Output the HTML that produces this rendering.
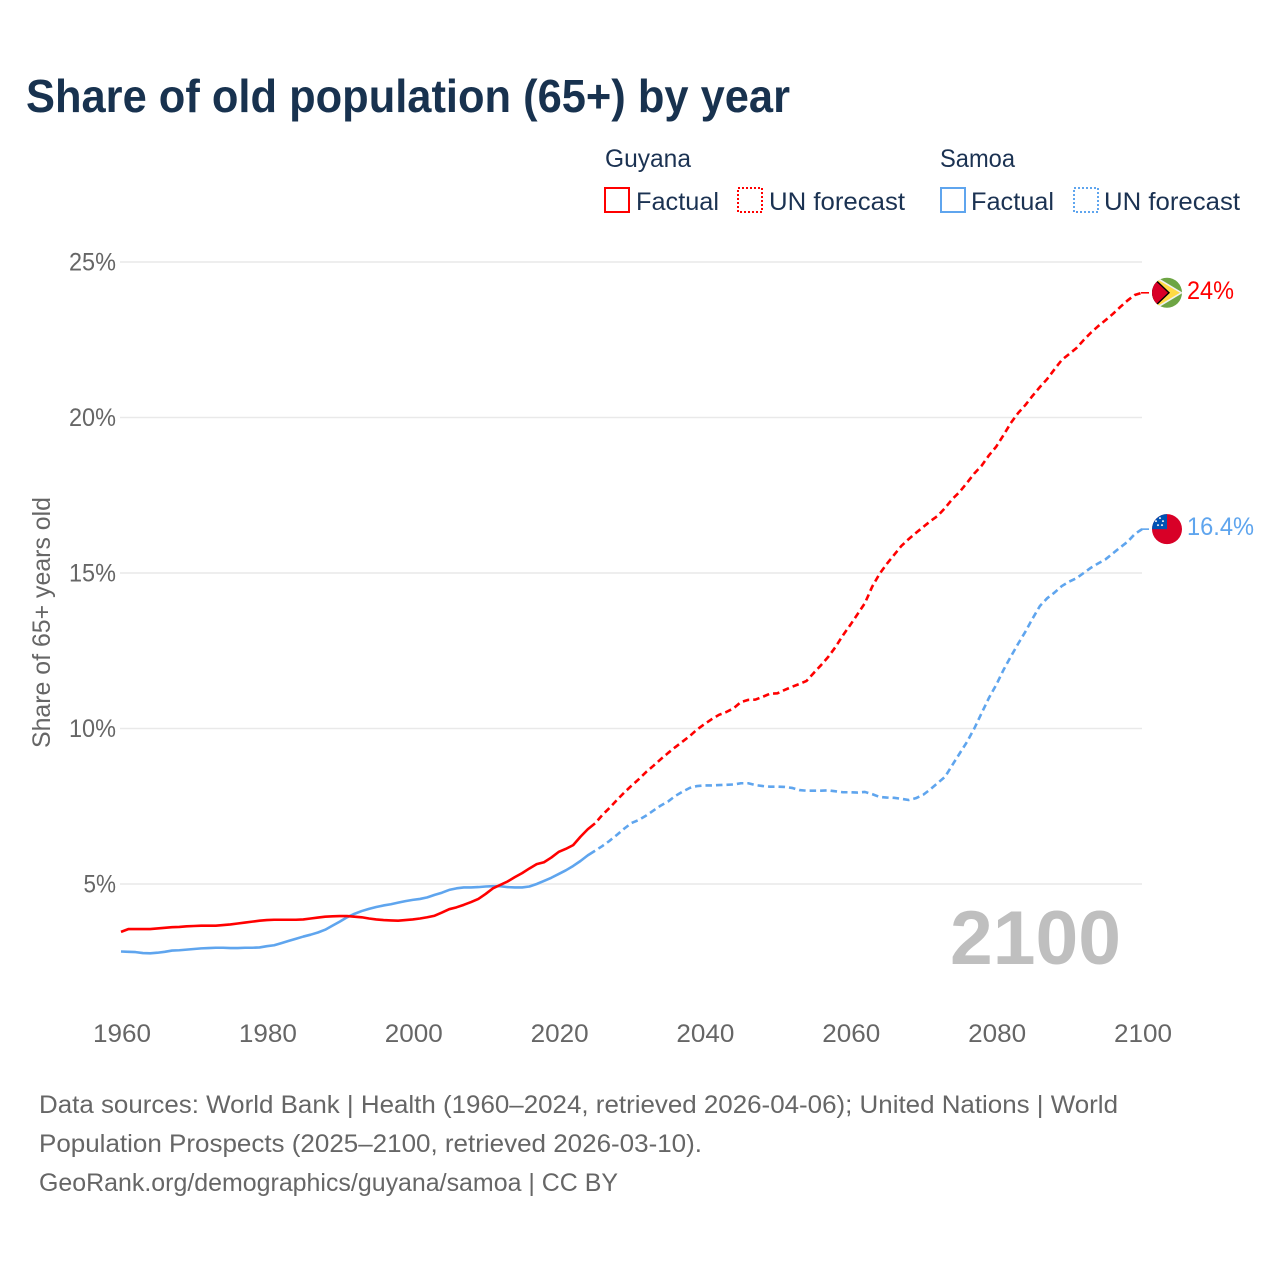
<!DOCTYPE html>
<html lang="en">
<head>
<meta charset="utf-8">
<title>Share of old population (65+) by year</title>
<style>
html,body{margin:0;padding:0;background:#fff;}
body{width:1280px;height:1280px;overflow:hidden;}
svg{display:block;}
text{font-family:"Liberation Sans",Arial,sans-serif;}
</style>
</head>
<body>
<svg id="chart" xmlns="http://www.w3.org/2000/svg" width="1280" height="1280" viewBox="0 0 1280 1280">
  <rect x="0" y="0" width="1280" height="1280" fill="#ffffff"/>
  <text x="26" y="112" font-size="46" font-weight="700" fill="#18324f" textLength="764" lengthAdjust="spacingAndGlyphs">Share of old population (65+) by year</text>

  <g font-size="25" fill="#1b3252">
    <text x="605" y="167" textLength="86" lengthAdjust="spacingAndGlyphs">Guyana</text>
    <text x="940" y="167" textLength="75" lengthAdjust="spacingAndGlyphs">Samoa</text>
    <g>
      <rect x="605" y="188" width="24" height="24" fill="none" stroke="#ff0000" stroke-width="2"/>
      <text x="636" y="210" textLength="83" lengthAdjust="spacingAndGlyphs">Factual</text>
    </g>
    <g>
      <rect x="738" y="188" width="24" height="24" fill="none" stroke="#ff0000" stroke-width="2" stroke-dasharray="2 2"/>
      <text x="769" y="210" textLength="136" lengthAdjust="spacingAndGlyphs">UN forecast</text>
    </g>
    <g>
      <rect x="941" y="188" width="24" height="24" fill="none" stroke="#5fa5ee" stroke-width="2"/>
      <text x="971" y="210" textLength="83" lengthAdjust="spacingAndGlyphs">Factual</text>
    </g>
    <g>
      <rect x="1074" y="188" width="24" height="24" fill="none" stroke="#5fa5ee" stroke-width="2" stroke-dasharray="2 2"/>
      <text x="1104" y="210" textLength="136" lengthAdjust="spacingAndGlyphs">UN forecast</text>
    </g>
  </g>

  <g id="grid"></g>
  <g id="yticks"></g>
  <g id="xticks"></g>
  <text transform="translate(50,748) rotate(-90)" font-size="25" fill="#666666" textLength="251" lengthAdjust="spacingAndGlyphs">Share of 65+ years old</text>
  <text x="1121" y="964" text-anchor="end" font-size="76" font-weight="700" fill="#bfbfbf" textLength="171" lengthAdjust="spacingAndGlyphs">2100</text>

  <g id="series"></g>

  <defs>
    <clipPath id="flagClip"><circle cx="0" cy="0" r="15"/></clipPath>
  </defs>
  <g id="flag-guyana">
    <g clip-path="url(#flagClip)">
      <rect x="-16" y="-16" width="32" height="32" fill="#6da544"/>
      <polygon points="-14,-18 16,0 -14,18" fill="#f0f0f0"/>
      <polygon points="-14,-16 13,0 -14,16" fill="#ffda44"/>
      <polygon points="-18,-20 3,0 -18,20" fill="#000000"/>
      <polygon points="-18,-18 1,0 -18,18" fill="#d80027"/>
    </g>
  </g>
  <g id="flag-samoa">
    <g clip-path="url(#flagClip)">
      <rect x="-16" y="-16" width="32" height="32" fill="#d80027"/>
      <rect x="-16" y="-16" width="16" height="16" fill="#0052b4"/>
      <circle cx="-7" cy="-11" r="1" fill="#f0f0f0"/>
      <circle cx="-11" cy="-8" r="1" fill="#f0f0f0"/>
      <circle cx="-4" cy="-8" r="1" fill="#f0f0f0"/>
      <circle cx="-9" cy="-4" r="1" fill="#f0f0f0"/>
      <circle cx="-5" cy="-4" r="1" fill="#f0f0f0"/>
    </g>
  </g>
  <g id="endlabels"></g>

  <g font-size="25" fill="#666666">
    <text x="39" y="1113" textLength="1079" lengthAdjust="spacingAndGlyphs">Data sources: World Bank | Health (1960–2024, retrieved 2026-04-06); United Nations | World</text>
    <text x="39" y="1152" textLength="663" lengthAdjust="spacingAndGlyphs">Population Prospects (2025–2100, retrieved 2026-03-10).</text>
    <text x="39" y="1191" textLength="579" lengthAdjust="spacingAndGlyphs">GeoRank.org/demographics/guyana/samoa | CC BY</text>
  </g>
</svg>
<script>
var yTickValues = [5, 10, 15, 20, 25];
var xTickYears = [1960, 1980, 2000, 2020, 2040, 2060, 2080, 2100];
var factualStartYear = 1960;
var forecastStartYear = 2025;

var guyanaFactual = [3.46,3.55,3.55,3.55,3.55,3.57,3.59,3.61,3.62,3.64,
  3.65,3.66,3.66,3.66,3.68,3.70,3.73,3.76,3.79,3.82,
  3.84,3.85,3.85,3.85,3.85,3.86,3.89,3.92,3.95,3.96,
  3.97,3.97,3.95,3.93,3.89,3.86,3.84,3.83,3.82,3.84,
  3.86,3.89,3.93,3.98,4.08,4.19,4.25,4.33,4.42,4.52,
  4.68,4.86,4.97,5.08,5.22,5.35,5.50,5.64,5.70,5.85,
  6.03,6.13,6.25,6.52,6.76];

var guyanaForecast = [6.95,7.22,7.45,7.70,7.94,8.16,8.37,8.60,8.80,9.01,
  9.21,9.40,9.58,9.76,9.97,10.14,10.30,10.44,10.53,10.65,
  10.85,10.92,10.93,11.02,11.12,11.13,11.24,11.34,11.43,11.53,
  11.79,12.04,12.31,12.63,13.00,13.33,13.68,14.03,14.56,14.97,
  15.29,15.58,15.87,16.09,16.29,16.48,16.67,16.84,17.09,17.38,
  17.61,17.90,18.20,18.45,18.78,19.06,19.43,19.82,20.14,20.40,
  20.70,20.98,21.24,21.55,21.85,22.04,22.23,22.49,22.73,22.94,
  23.13,23.33,23.55,23.76,23.94,24.01];

var samoaFactual = [2.83,2.82,2.81,2.78,2.77,2.79,2.82,2.86,2.87,2.89,
  2.91,2.93,2.94,2.95,2.95,2.94,2.94,2.95,2.95,2.96,
  3.00,3.03,3.10,3.17,3.24,3.31,3.37,3.44,3.53,3.66,
  3.79,3.93,4.04,4.13,4.20,4.26,4.31,4.35,4.40,4.45,
  4.49,4.52,4.57,4.65,4.72,4.81,4.86,4.89,4.89,4.90,
  4.92,4.93,4.93,4.90,4.89,4.89,4.92,5.00,5.10,5.20,
  5.32,5.44,5.58,5.74,5.92];

var samoaForecast = [6.07,6.22,6.39,6.58,6.78,6.96,7.06,7.20,7.36,7.52,
  7.65,7.83,7.97,8.09,8.15,8.17,8.17,8.18,8.19,8.20,
  8.24,8.24,8.18,8.15,8.13,8.13,8.12,8.09,8.02,8.00,
  8.00,8.00,8.01,7.98,7.95,7.95,7.94,7.96,7.89,7.80,
  7.78,7.77,7.74,7.70,7.76,7.87,8.05,8.25,8.45,8.83,
  9.20,9.57,10.00,10.49,10.98,11.40,11.88,12.31,12.72,13.11,
  13.54,13.94,14.19,14.37,14.58,14.72,14.83,15.00,15.17,15.31,
  15.44,15.63,15.82,16.00,16.25,16.41];

var guyanaEndLabel = "24%";
var samoaEndLabel = "16.4%";

var NS = "http://www.w3.org/2000/svg";
function xScale(year){ return 121 + (year - 1960) * 7.293; }
function yScale(v){ return 884 - (v - 5) * 31.1; }

function make(tag, attrs, parent){
  var el = document.createElementNS(NS, tag);
  for (var k in attrs) el.setAttribute(k, attrs[k]);
  parent.appendChild(el);
  return el;
}

var gridG = document.getElementById("grid");
var yTickG = document.getElementById("yticks");
yTickValues.forEach(function(v){
  var y = yScale(v);
  var line = make("line", {x1:120, x2:1142, y1:y, y2:y, stroke:"#e9e9e9", "stroke-width":1.5}, gridG);
  
  
  var label = v + "%";
  var t = make("text", {x:116, y:y+8.5, "text-anchor":"end", "font-size":25, fill:"#666666",
    textLength:String(v).length*14.5+18, lengthAdjust:"spacingAndGlyphs"}, yTickG);
  t.textContent = label;
  
  
});

var xTickG = document.getElementById("xticks");
xTickYears.forEach(function(yr){
  var t = make("text", {x:xScale(yr)+1, y:1042, "text-anchor":"middle", "font-size":25, fill:"#666666",
    textLength:58, lengthAdjust:"spacingAndGlyphs"}, xTickG);
  t.textContent = String(yr);
  
  
});

function pathFrom(values, startYear){
  return values.map(function(v, i){
    return (i ? "L" : "M") + xScale(startYear + i).toFixed(2) + " " + yScale(v).toFixed(2);
  }).join(" ");
}

var seriesG = document.getElementById("series");
function drawSeries(factual, forecast, color, key){
  var solid = make("path", {d:pathFrom(factual.concat([forecast[0]]), factualStartYear), fill:"none",
    stroke:color, "stroke-width":2.6, "stroke-linejoin":"round"}, seriesG);
  
  
  var dash = make("path", {d:pathFrom(forecast, forecastStartYear), fill:"none",
    stroke:color, "stroke-width":2.6, "stroke-linejoin":"round", "stroke-dasharray":"6.5 4", "stroke-dashoffset":"6.5"}, seriesG);
  
  
  var lastY = yScale(forecast[forecast.length - 1]);
  var lead = make("line", {x1:xScale(2100)-1, x2:xScale(2100)+7, y1:lastY, y2:lastY, stroke:color, "stroke-width":1.6}, seriesG);
  
  
}
drawSeries(samoaFactual, samoaForecast, "#5fa5ee", "samoa");
drawSeries(guyanaFactual, guyanaForecast, "#ff0000", "guyana");

function placeEnd(flagId, forecast, text, color, key, width){
  var y = yScale(forecast[forecast.length - 1]);
  document.getElementById(flagId).setAttribute("transform", "translate(1167," + y.toFixed(2) + ")");
  var t = make("text", {x:1187, y:y+6, "font-size":25, fill:color, textLength:width, lengthAdjust:"spacingAndGlyphs"},
    document.getElementById("endlabels"));
  t.textContent = text;
  
  
}
placeEnd("flag-guyana", guyanaForecast, guyanaEndLabel, "#ff0000", "guyana", 47);
placeEnd("flag-samoa", samoaForecast, samoaEndLabel, "#5fa5ee", "samoa", 67);
</script>
</body>
</html>
